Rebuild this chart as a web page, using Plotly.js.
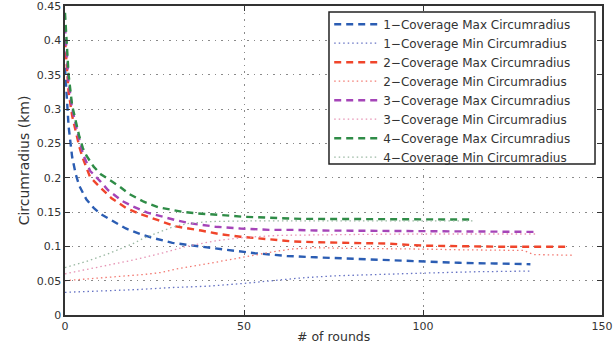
<!DOCTYPE html>
<html>
<head>
<meta charset="utf-8">
<script src="https://cdn.plot.ly/plotly-3.0.1.min.js"></script>
<style>
  html, body { margin: 0; padding: 0; background: #fff; }
  #chart { width: 613px; height: 345px; }
</style>
</head>
<body>
<div id="chart"></div>
<script>
// Circumradius per round for k-coverage runs (km)
const seriesNames = [
  "1\u2212Coverage Max Circumradius",
  "1\u2212Coverage Min Circumradius",
  "2\u2212Coverage Max Circumradius",
  "2\u2212Coverage Min Circumradius",
  "3\u2212Coverage Max Circumradius",
  "3\u2212Coverage Min Circumradius",
  "4\u2212Coverage Max Circumradius",
  "4\u2212Coverage Min Circumradius"
];

const roundsMax1 = [0, 1, 2, 3, 4, 5, 6, 8, 10, 13, 17, 21, 24, 30, 37, 45, 53, 62, 70, 80, 90, 100, 110, 120, 130];
const max1 = [0.36, 0.275, 0.23, 0.205, 0.188, 0.177, 0.168, 0.156, 0.147, 0.138, 0.126, 0.118, 0.113, 0.105, 0.1, 0.095, 0.09, 0.086, 0.084, 0.082, 0.08, 0.077, 0.076, 0.075, 0.074];

const roundsMin1 = [0, 10, 20, 30, 40, 50, 60, 66, 75, 85, 100, 115, 130];
const min1 = [0.033, 0.0345, 0.037, 0.04, 0.042, 0.046, 0.051, 0.054, 0.057, 0.059, 0.061, 0.063, 0.064];

const roundsMax2 = [0, 1, 2, 3, 4, 5, 7, 10, 13, 17, 21, 26, 31, 38, 43, 49, 57, 64, 70, 80, 90, 100, 110, 120, 130, 140];
const max2 = [0.40, 0.325, 0.29, 0.268, 0.245, 0.228, 0.201, 0.185, 0.17, 0.156, 0.147, 0.138, 0.129, 0.123, 0.118, 0.114, 0.11, 0.107, 0.106, 0.105, 0.104, 0.101, 0.1, 0.0995, 0.0995, 0.0995];

const roundsMin2 = [0, 8, 16, 22, 27, 32, 38, 43, 50, 57, 63, 70, 80, 90, 100, 110, 128, 131, 142];
const min2 = [0.05, 0.053, 0.057, 0.059, 0.062, 0.068, 0.073, 0.078, 0.085, 0.091, 0.096, 0.098, 0.097, 0.097, 0.096, 0.095, 0.094, 0.088, 0.087];

const roundsMax3 = [0, 1, 2, 3, 4, 5, 7, 10, 12, 16, 19, 23, 27, 31, 35, 42, 49, 57, 64, 70, 80, 90, 100, 110, 120, 132];
const max3 = [0.42, 0.34, 0.30, 0.275, 0.255, 0.235, 0.21, 0.194, 0.182, 0.166, 0.158, 0.149, 0.143, 0.138, 0.1335, 0.1286, 0.126, 0.124, 0.124, 0.123, 0.1228, 0.1225, 0.122, 0.122, 0.122, 0.121];

const roundsMin3 = [0, 10, 19, 27, 34, 42, 50, 60, 70, 85, 100, 115, 132];
const min3 = [0.06, 0.07, 0.08, 0.09, 0.1, 0.108, 0.113, 0.116, 0.117, 0.1175, 0.118, 0.118, 0.118];

const roundsMax4 = [0, 1, 2, 3, 4, 5, 6, 8, 10, 15, 18, 22, 26, 30, 33, 37, 42, 46, 50, 58, 66, 80, 100, 114];
const max4 = [0.44, 0.35, 0.305, 0.28, 0.26, 0.243, 0.232, 0.216, 0.205, 0.188, 0.176, 0.165, 0.157, 0.153, 0.15, 0.148, 0.1456, 0.1446, 0.143, 0.1417, 0.14, 0.1398, 0.1393, 0.139];

const roundsMin4 = [0, 6, 12, 16, 19, 22, 26, 30, 34, 40, 50, 70, 90, 114];
const min4 = [0.069, 0.078, 0.089, 0.097, 0.104, 0.112, 0.12, 0.128, 0.133, 0.136, 0.137, 0.137, 0.137, 0.137];

const xTicks = [0, 50, 100, 150];
const yTicks = [0, 0.05, 0.1, 0.15, 0.2, 0.25, 0.3, 0.35, 0.4, 0.45];
const yTickText = ["0", "0.05", "0.1", "0.15", "0.2", "0.25", "0.3", "0.35", "0.4", "0.45"];
const xTitle = "# of rounds";
const yTitle = "Circumradius (km)";

const xs = [roundsMax1, roundsMin1, roundsMax2, roundsMin2, roundsMax3, roundsMin3, roundsMax4, roundsMin4];
const ys = [max1, min1, max2, min2, max3, min3, max4, min4];
const colors = ["#2b5db3", "#6673c4", "#f0452b", "#f27a72", "#a545b8", "#e693b4", "#2f8c47", "#9ab8a2"];

const dashed = { width: 2.4, dash: "7px,5px" };
const dotted = { width: 1.3, dash: "1.5px,3px" };

const traces = seriesNames.map((name, i) => {
  const style = i % 2 === 0 ? dashed : dotted;
  return {
    type: "scatter",
    mode: "lines",
    name: name,
    x: xs[i],
    y: ys[i],
    line: { color: colors[i], width: style.width, dash: style.dash }
  };
});

const axisCommon = {
  showline: true,
  linecolor: "#333",
  linewidth: 1.6,
  mirror: "ticks",
  ticks: "inside",
  ticklen: 5,
  tickcolor: "#333",
  tickwidth: 1,
  showgrid: true,
  gridcolor: "#8a8a8a",
  gridwidth: 1,
  griddash: "1.5px,5px",
  zeroline: false,
  automargin: false,
  ticklabeloverflow: "allow",
  tickfont: { family: "DejaVu Sans", size: 11, color: "#333" }
};

const layout = {
  width: 613,
  height: 345,
  margin: { l: 65, r: 11, t: 6, b: 30 },
  paper_bgcolor: "#fff",
  plot_bgcolor: "#fff",
  showlegend: true,
  xaxis: Object.assign({}, axisCommon, {
    range: [0, 150.001],
    tickvals: xTicks,
    ticktext: xTicks.map(String)
  }),
  yaxis: Object.assign({}, axisCommon, {
    range: [0, 0.45001],
    tickvals: yTicks,
    ticktext: yTickText,
    title: { text: yTitle, standoff: 4, font: { family: "DejaVu Sans", size: 14, color: "#333" } }
  }),
  // x-axis title sits low, right at the bottom edge
  annotations: [{
    text: xTitle,
    xref: "paper", yref: "paper",
    x: 0.5, y: -0.0965,
    xanchor: "center", yanchor: "bottom",
    showarrow: false,
    borderpad: 0,
    font: { family: "DejaVu Sans", size: 12.5, color: "#333" }
  }],
  // legend frame drawn as a paper-space box so it can be wider than the entries
  shapes: [{
    type: "rect",
    xref: "paper", yref: "paper",
    x0: 0.4916, x1: 0.9870,
    y0: 0.4887, y1: 0.9806,
    fillcolor: "#fff",
    line: { color: "#222", width: 1.5 },
    layer: "above"
  }],
  legend: {
    x: 0.492,
    y: 0.988,
    xanchor: "left",
    yanchor: "top",
    bgcolor: "rgba(0,0,0,0)",
    borderwidth: 0,
    itemwidth: 44,
    font: { family: "DejaVu Sans", size: 12, color: "#333" },
    tracegroupgap: 0
  }
};

Plotly.newPlot("chart", traces, layout, { displayModeBar: false, staticPlot: true });
</script>
</body>
</html>
